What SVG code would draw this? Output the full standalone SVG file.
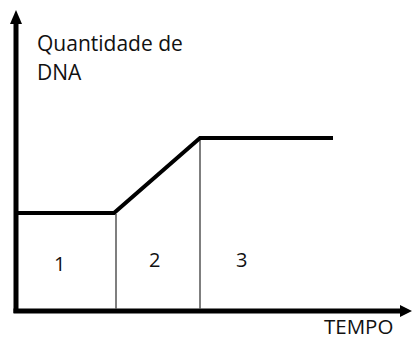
<svg xmlns="http://www.w3.org/2000/svg" width="412" height="340" viewBox="0 0 412 340">
<style>
.t{font-family:"Open Sans","Noto Sans",sans-serif;fill:#111;}
.ax{stroke:#000;stroke-width:5;fill:none;}
.curve{stroke:#000;stroke-width:4;fill:none;stroke-linejoin:miter;}
.div{stroke:#555;stroke-width:1.5;fill:none;}
</style>
<rect width="412" height="340" fill="#fff"/>
<g id="axes">
<line class="ax" x1="16" y1="22" x2="16" y2="313"/>
<line class="ax" x1="13.5" y1="311" x2="402" y2="311"/>
<polygon points="16,10 10,24 22,24" fill="#000"/>
<polygon points="412,311 400,305 400,317" fill="#000"/>
</g>
<g id="dividers">
<line class="div" x1="116" y1="214" x2="116" y2="309"/>
<line class="div" x1="200" y1="138" x2="200" y2="309"/>
</g>
<g id="curve">
<polyline class="curve" points="18,213 114,213 200,138 333,138"/>
</g>
<g id="labels">
<text class="t" x="37" y="51" font-size="21">Quantidade de</text>
<text class="t" x="37" y="80" font-size="21">DNA</text>
<text class="t" x="54" y="271" font-size="20">1</text>
<text class="t" x="149" y="267" font-size="20">2</text>
<text class="t" x="236" y="267" font-size="20">3</text>
<text class="t" x="324" y="334" font-size="20.5">TEMPO</text>
</g>
</svg>
